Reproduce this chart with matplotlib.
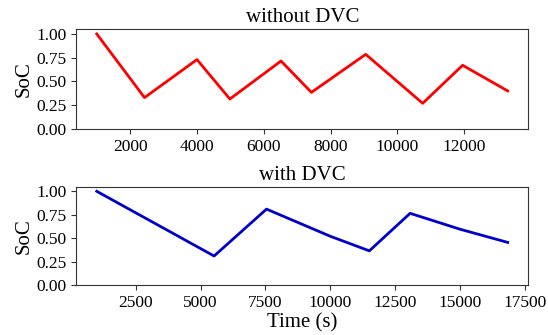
import matplotlib
matplotlib.use("Agg")
import matplotlib.pyplot as plt
from matplotlib.ticker import MultipleLocator

plt.rcParams['font.family'] = ['Liberation Serif', 'DejaVu Serif']

# without DVC
t_no = [1000, 2430, 4000, 4985, 6515, 7425, 9050, 10755, 11950, 13300]
soc_no = [1.0, 0.33, 0.73, 0.315, 0.715, 0.385, 0.785, 0.27, 0.67, 0.40]

# with DVC
t_dvc = [1000, 5520, 7540, 10000, 11500, 13070, 15000, 16830]
soc_dvc = [1.0, 0.31, 0.81, 0.52, 0.365, 0.765, 0.595, 0.455]

yticks = [0.0, 0.25, 0.5, 0.75, 1.0]

fig = plt.figure(figsize=(5.48, 3.35), dpi=100)
ax1 = fig.add_axes([0.139, 0.615, 0.825, 0.298])
ax2 = fig.add_axes([0.139, 0.149, 0.825, 0.294])

ax1.plot(t_no, soc_no, color='#ff0000', lw=2)
ax1.set_title('without DVC', fontsize=15, pad=5)

ax2.plot(t_dvc, soc_dvc, color='#0000cc', lw=2)
ax2.set_title('with DVC', fontsize=15, pad=5)
ax2.set_xlabel('Time (s)', fontsize=15, labelpad=1.5)
ax2.xaxis.set_major_locator(MultipleLocator(2500))

for ax in (ax1, ax2):
    ax.set_ylim(0, 1.05)
    ax.set_yticks(yticks)
    ax.set_yticklabels(['%.2f' % v for v in yticks])
    ax.set_ylabel('SoC', fontsize=15, labelpad=2)
    ax.tick_params(labelsize=12.5, color='#333333')
    for s in ax.spines.values():
        s.set_color('#333333')

fig.savefig('out.png', dpi=100)
